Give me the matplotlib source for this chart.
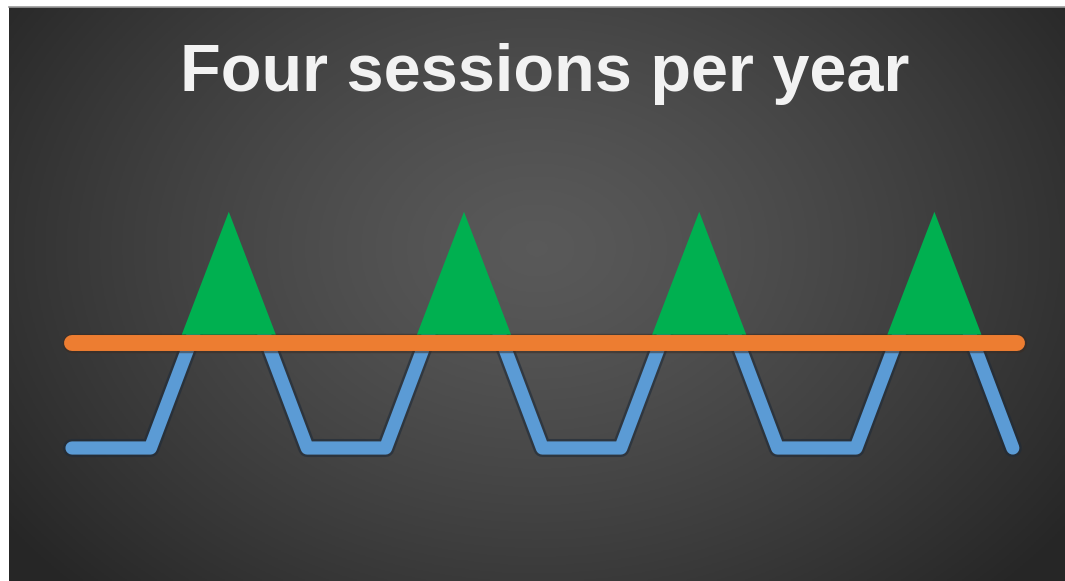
import numpy as np
import matplotlib
matplotlib.use('Agg')
import matplotlib.pyplot as plt
import matplotlib.patheffects as pe

title = 'Four sessions per year'

# months along the year, blue activity curve (0 = low, 1 = baseline level)
blue_x = [0, 1, 2, 3, 4, 5, 6, 7, 8, 9, 10, 11, 12]
blue_y = [0, 0, 1.98, 0, 0, 1.98, 0, 0, 1.98, 0, 0, 1.98, 0]

# orange baseline
orange_x = [0, 12.05]
orange_y = [1, 1]

# green session markers
session_months = [2, 5, 8, 11]
tri_top = 2.25
tri_base = 1.08
tri_half_width = 0.6

fig = plt.figure(figsize=(10.65, 5.81), dpi=100)
fig.patch.set_facecolor('white')

# radial grey background
bg = fig.add_axes([9 / 1065, 0, 1 - 9 / 1065, 1 - 7 / 581])
gx, gy = np.meshgrid(np.linspace(0, 1, 400), np.linspace(0, 1, 220))
r = np.sqrt(((gx - 0.5) / 0.62) ** 2 + ((gy - 0.42) / 0.85) ** 2)
shade = 0.35 - 0.20 * np.clip(r, 0, 1) ** 1.3
bg.imshow(np.dstack([shade] * 3), aspect='auto', extent=[0, 1, 1, 0])
bg.axis('off')
fig.add_artist(plt.Line2D([9 / 1065, 1], [1 - 6.5 / 581] * 2, color='#9a9a9a', lw=1.2))

ax = fig.add_axes([0, 0, 1, 1])
ax.patch.set_alpha(0)
ax.set_xlim(-72 / 78.4, (1065 - 72) / 78.4)
ax.set_ylim(-(581 - 448) / 105, 448 / 105)
ax.axis('off')

shadow = [pe.Stroke(linewidth=13, foreground='#1e2a38', alpha=0.6), pe.Normal()]
ax.plot(blue_x, blue_y, color='#5B9BD5', lw=9.5, solid_capstyle='round',
        solid_joinstyle='round', path_effects=shadow, zorder=2)
ax.plot(orange_x, orange_y, color='#ED7D31', lw=11.5, solid_capstyle='round',
        path_effects=[pe.Stroke(linewidth=14, foreground='#3a2a20', alpha=0.5), pe.Normal()],
        zorder=3)

for m in session_months:
    ax.fill([m - tri_half_width, m, m + tri_half_width], [tri_base, tri_top, tri_base],
            color='#00B050', lw=0, zorder=4)

ax.text(6.03, 3.40, title, ha='center', va='baseline', color='#f2f2f2',
        fontsize=48, fontweight='bold', family=['Liberation Sans', 'DejaVu Sans'])

fig.savefig('out.png', dpi=100)
